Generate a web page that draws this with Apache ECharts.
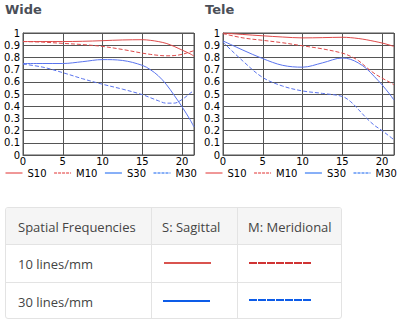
<!DOCTYPE html>
<html>
<head>
<meta charset="utf-8">
<script src="https://cdn.jsdelivr.net/npm/echarts@6/dist/echarts.min.js"></script>
<style>
html,body{margin:0;padding:0;background:#fff;}
#chart{position:absolute;left:0;top:0;width:401px;height:200px;}
#tbl{position:absolute;left:5px;top:207px;width:337px;height:112px;box-sizing:border-box;border:1px solid #e3e3e3;border-radius:3px;overflow:hidden;font-family:'Open Sans',sans-serif;font-size:13px;color:#444;}
#tbl .hdr{position:absolute;left:0;top:0;width:100%;height:37px;background:#f5f5f5;}
#tbl .hl{position:absolute;left:0;width:100%;height:1px;background:#e3e3e3;}
#tbl .vl{position:absolute;top:0;height:100%;width:1px;background:#e3e3e3;}
#tbl .tx{position:absolute;line-height:16px;white-space:nowrap;}
#tbl .sw{position:absolute;height:2px;}
</style>
</head>
<body>
<div id="chart"></div>
<div id="tbl">
  <div class="hdr"></div>
  <div class="hl" style="top:36px"></div>
  <div class="hl" style="top:74px"></div>
  <div class="vl" style="left:145px"></div>
  <div class="vl" style="left:231px"></div>
  <div class="tx" style="left:12px;top:11px">Spatial Frequencies</div>
  <div class="tx" style="left:156px;top:11px">S: Sagittal</div>
  <div class="tx" style="left:242px;top:11px">M: Meridional</div>
  <div class="tx" style="left:12px;top:48px">10 lines/mm</div>
  <div class="tx" style="left:12px;top:86px">30 lines/mm</div>
  <div class="sw" style="left:158px;top:54px;width:47px;background:#d9534f"></div>
  <div class="sw" style="left:243px;top:54px;width:62px;background:repeating-linear-gradient(to right,#d03434 0 8px,transparent 8px 9px)"></div>
  <div class="sw" style="left:157px;top:92px;width:47px;background:#0d5ce8"></div>
  <div class="sw" style="left:243px;top:91px;width:62px;background:repeating-linear-gradient(to right,#0d5ce8 0 8px,transparent 8px 9px)"></div>
</div>
<script>
// Image height positions (mm)
const xs = [0, 2.5, 5, 7.5, 10, 12.5, 15, 16, 17, 18, 19, 20, 21, 21.5];
// Wide
const wideS10 = [0.93, 0.93, 0.93, 0.932, 0.937, 0.943, 0.945, 0.94, 0.93, 0.915, 0.89, 0.86, 0.83, 0.81];
const wideM10 = [0.93, 0.925, 0.915, 0.905, 0.89, 0.865, 0.835, 0.825, 0.817, 0.813, 0.815, 0.825, 0.845, 0.855];
const wideS30 = [0.75, 0.75, 0.75, 0.765, 0.782, 0.775, 0.735, 0.70, 0.65, 0.58, 0.49, 0.395, 0.29, 0.23];
const wideM30 = [0.745, 0.72, 0.675, 0.625, 0.58, 0.54, 0.495, 0.47, 0.445, 0.425, 0.425, 0.455, 0.505, 0.53];
// Tele
const teleS10 = [1.0, 0.988, 0.977, 0.967, 0.96, 0.962, 0.965, 0.962, 0.955, 0.945, 0.932, 0.918, 0.9, 0.89];
const teleM10 = [0.995, 0.96, 0.94, 0.92, 0.895, 0.87, 0.835, 0.81, 0.775, 0.72, 0.67, 0.63, 0.595, 0.575];
const teleS30 = [0.935, 0.86, 0.79, 0.735, 0.72, 0.755, 0.795, 0.785, 0.755, 0.71, 0.645, 0.575, 0.495, 0.45];
const teleM30 = [0.925, 0.77, 0.635, 0.565, 0.525, 0.505, 0.48, 0.44, 0.375, 0.305, 0.245, 0.2, 0.15, 0.125];

const seriesNames = ['S10', 'M10', 'S30', 'M30'];
const titles = ['Wide', 'Tele'];
const xTicks = [0, 5, 10, 15, 20];

const styles = {
  S10: {color: '#de4a4a', legend: '#e03030', type: 'solid'},
  M10: {color: '#de4a4a', legend: '#e03030', type: [4, 2]},
  S30: {color: '#5a74ee', legend: '#1060f0', type: 'solid'},
  M30: {color: '#5a74ee', legend: '#1060f0', type: [4, 2]}
};
const panels = [[wideS10, wideM10, wideS30, wideM30], [teleS10, teleM10, teleS30, teleM30]];
const lefts = [23, 223];
const FONT = 'DejaVu Sans';

const chart = echarts.init(document.getElementById('chart'), null, {renderer: 'svg'});
const grid = [], xAxis = [], yAxis = [], series = [], legend = [], graphic = [];
lefts.forEach((l, gi) => {
  grid.push({left: l, top: 33, width: 171, height: 122, show: true, borderColor: '#555', borderWidth: 1, backgroundColor: 'transparent'});
  xAxis.push({
    gridIndex: gi, type: 'value', min: 0, max: 21.5, interval: 5,
    axisLine: {show: true, lineStyle: {color: '#555', width: 1}},
    axisTick: {show: false},
    splitLine: {show: true, lineStyle: {color: '#555', width: 1}},
    axisLabel: {color: '#000', fontSize: 10, fontFamily: FONT, margin: 1, showMaxLabel: false,
      formatter: v => (xTicks.indexOf(v) >= 0 ? String(v) : '')}
  });
  yAxis.push({
    gridIndex: gi, type: 'value', min: 0, max: 1, interval: 0.1,
    axisLine: {show: true, lineStyle: {color: '#555', width: 1}},
    axisTick: {show: false},
    splitLine: {show: true, lineStyle: {color: '#555', width: 1}},
    axisLabel: {color: '#000', fontSize: 10, fontFamily: FONT, margin: 3,
      formatter: v => String(Math.round(v * 10) / 10)}
  });
  panels[gi].forEach((arr, si) => {
    const nm = seriesNames[si];
    series.push({
      type: 'line', name: nm, xAxisIndex: gi, yAxisIndex: gi,
      data: xs.map((x, i) => [x, arr[i]]),
      smooth: 0.35, symbol: 'none', silent: true,
      lineStyle: {color: styles[nm].color, width: 1, type: styles[nm].type},
      itemStyle: {color: styles[nm].color}
    });
  });
  legend.push({
    left: l - 18, top: 168, itemWidth: 17, itemHeight: 10, itemGap: 7, padding: 0,
    selectedMode: false,
    textStyle: {color: '#000', fontSize: 10, fontFamily: FONT},
    itemStyle: {opacity: 0},
    data: seriesNames.map(n => ({name: n, itemStyle: {opacity: 0},
      lineStyle: {color: styles[n].legend, width: 1, type: n[0] === 'M' ? [3, 1] : 'solid'}}))
  });
  graphic.push({type: 'text', left: l - 18, top: 3,
    style: {text: titles[gi], fontSize: 13, fontWeight: 'bold', fontFamily: FONT, fill: '#4b4f58'}});
});

chart.setOption({animation: false, grid, xAxis, yAxis, series, legend, graphic});
</script>
</body>
</html>
